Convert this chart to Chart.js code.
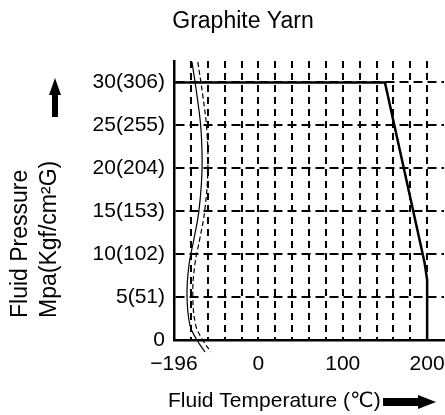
<!DOCTYPE html>
<html>
<head>
<meta charset="utf-8">
<script src="https://cdn.jsdelivr.net/npm/chart.js@4.4.1/dist/chart.umd.min.js"></script>
<style>
  html, body { margin: 0; padding: 0; background: #fff; }
  #wrap { width: 445px; height: 415px; position: relative; }
</style>
</head>
<body>
<div id="wrap"><canvas id="c"></canvas></div>
<script>
// ---- data ----
const chartTitle = 'Graphite Yarn';
const yTitleLines = ['Fluid Pressure', 'Mpa(Kgf/cm\u00B2G)'];
const xTitle = 'Fluid Temperature (\u2103)';

const xTickValues = [-100, 0, 100, 200];
const xTickLabels = ['\u2212196', '0', '100', '200'];
const yTickValues = [0, 5, 10, 15, 20, 25, 30];
const yTickLabels = ['0', '5(51)', '10(102)', '15(153)', '20(204)', '25(255)', '30(306)'];

// limit curve (temperature, pressure)
const limitTemps = [-100, 150, 197, 200, 200];
const limitPressures = [30, 30, 9, 7, 0];

// axis-break marks (solid and dashed wavy lines)
const breakPressures = [32.4, 28.5, 24.5, 19.8, 15.1, 11.8, 8.7, 5.2, 1.7, 0, -1.4];
const breakSolidTemps = [-78.7, -72.8, -68.0, -66.8, -70.4, -76.3, -82.3, -84.6, -81.1, -72.8, -63.3];
const breakDashTemps = [-71.8, -65.9, -61.1, -59.9, -63.5, -69.4, -75.4, -77.7, -74.2, -65.9, -56.4];

const toPoints = (xs, ys) => xs.map((x, i) => ({ x: x, y: ys[i] }));

const FONT = '"Liberation Sans", Arial, "DejaVu Sans", sans-serif';

const decor = {
  id: 'decor',
  afterDraw(chart) {
    const ctx = chart.ctx;
    ctx.save();
    ctx.fillStyle = '#000';
    // title
    ctx.font = '23px ' + FONT;
    ctx.textAlign = 'center';
    ctx.textBaseline = 'alphabetic';
    ctx.fillText(chartTitle, 243, 28);
    // y title (bottom-aligned at y=317)
    ctx.font = '23px ' + FONT;
    ctx.textAlign = 'left';
    ctx.save();
    ctx.translate(27, 318);
    ctx.rotate(-Math.PI / 2);
    ctx.fillText(yTitleLines[0], 0, 0);
    ctx.restore();
    ctx.save();
    ctx.translate(56, 318);
    ctx.rotate(-Math.PI / 2);
    ctx.fillText(yTitleLines[1], 0, 0);
    ctx.restore();
    // x title
    ctx.font = '21px ' + FONT;
    ctx.textAlign = 'left';
    ctx.fillText(xTitle, 168, 407);
    // up arrow
    ctx.beginPath();
    ctx.moveTo(55, 78);
    ctx.lineTo(61, 95);
    ctx.lineTo(58, 95);
    ctx.lineTo(58, 117);
    ctx.lineTo(52, 117);
    ctx.lineTo(52, 95);
    ctx.lineTo(49, 95);
    ctx.closePath();
    ctx.fill();
    // right arrow
    ctx.beginPath();
    ctx.moveTo(383, 398);
    ctx.lineTo(418, 398);
    ctx.lineTo(418, 395);
    ctx.lineTo(436, 402);
    ctx.lineTo(418, 409);
    ctx.lineTo(418, 406);
    ctx.lineTo(383, 406);
    ctx.closePath();
    ctx.fill();
    ctx.restore();
  }
};

new Chart(document.getElementById('c'), {
  type: 'line',
  data: {
    datasets: [
      {
        data: toPoints(limitTemps, limitPressures),
        borderColor: '#000', borderWidth: 2.5, pointRadius: 0, tension: 0, clip: false
      },
      {
        data: toPoints(breakSolidTemps, breakPressures),
        borderColor: '#000', borderWidth: 1.2, pointRadius: 0, tension: 0.4, clip: false
      },
      {
        data: toPoints(breakDashTemps, breakPressures),
        borderColor: '#000', borderWidth: 1.2, pointRadius: 0, tension: 0.4, clip: false,
        borderDash: [5, 3]
      }
    ]
  },
  options: {
    responsive: true,
    maintainAspectRatio: false,
    animation: false,
    layout: { padding: { top: 61, left: 0, right: 1, bottom: 0 } },
    plugins: { legend: { display: false }, title: { display: false }, tooltip: { enabled: false } },
    scales: {
      x: {
        type: 'linear',
        min: -100, max: 220,
        afterFit(s) { s.height = 75; s.paddingLeft = 0; s.paddingRight = 0; },
        grid: {
          drawTicks: false,
          lineWidth: 2,
          color: (c) => (c.tick && (c.tick.value > 200 || c.tick.value <= -100)) ? 'rgba(0,0,0,0)' : '#000'
        },
        border: { display: true, color: '#000', width: 2.5, dash: [7, 5] },
        ticks: {
          stepSize: 20, autoSkip: false, maxRotation: 0, padding: 12, color: '#000',
          includeBounds: false,
          font: { family: FONT, size: 21 },
          callback: (v) => { const i = xTickValues.indexOf(v); return i >= 0 ? xTickLabels[i] : ''; }
        }
      },
      y: {
        type: 'linear',
        min: 0, max: 32.5,
        afterFit(s) { s.width = 174; s.paddingTop = 0; s.paddingBottom = 0; },
        grid: {
          drawTicks: false,
          lineWidth: 2,
          color: (c) => (c.tick && c.tick.value <= 0) ? 'rgba(0,0,0,0)' : '#000'
        },
        border: { display: true, color: '#000', width: 2.5, dash: [9, 5] },
        ticks: {
          stepSize: 5, autoSkip: false, padding: 9, color: '#000',
          includeBounds: false,
          font: { family: FONT, size: 21 },
          callback: (v) => { const i = yTickValues.indexOf(v); return i >= 0 ? yTickLabels[i] : ''; }
        }
      }
    }
  },
  plugins: [decor]
});
</script>
</body>
</html>
